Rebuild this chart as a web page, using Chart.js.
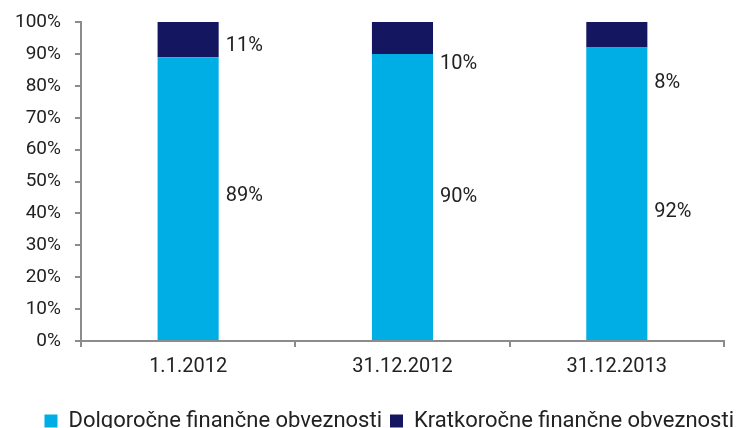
<!DOCTYPE html>
<html>
<head>
<meta charset="utf-8">
<script src="https://cdn.jsdelivr.net/npm/chart.js@4/dist/chart.umd.min.js"></script>
<style>
    html, body { margin: 0; padding: 0; background: #fff; }
    #wrap { width: 742px; height: 428px; position: relative; }
</style>
</head>
<body>
<div id="wrap"><canvas id="debtChart"></canvas></div>
<script>
const categories = ["1.1.2012", "31.12.2012", "31.12.2013"];
const longTerm = [89, 90, 92];
const shortTerm = [11, 10, 8];
// where the value labels sit, in percent on the y scale
const longTermLabelAt = [45.6, 45, 40.5];
const shortTermLabelAt = [92.5, 87, 81];

const fontFamily = "Roboto, 'DejaVu Sans', sans-serif";
const axisColor = "#8c8c8c";
const textColor = "#222";

const sideLabels = {
    id: "sideLabels",
    afterDatasetsDraw(chart) {
        const ctx = chart.ctx;
        const yScale = chart.scales.y;
        const labelAt = [longTermLabelAt, shortTermLabelAt];
        ctx.save();
        ctx.font = "20px " + fontFamily;
        ctx.fillStyle = textColor;
        ctx.textAlign = "left";
        ctx.textBaseline = "middle";
        chart.data.datasets.forEach((ds, d) => {
            chart.getDatasetMeta(d).data.forEach((bar, i) => {
                const x = bar.x + bar.width / 2 + 7;
                const y = yScale.getPixelForValue(labelAt[d][i]);
                ctx.fillText(ds.data[i] + "%", x, y);
            });
        });
        ctx.restore();
    }
};

window.onload = function () {
    const ctx = document.getElementById("debtChart").getContext("2d");

    new Chart(ctx, {
        type: "bar",
        data: {
            labels: categories,
            datasets: [
                {
                    label: "Dolgoročne finančne obveznosti",
                    data: longTerm,
                    backgroundColor: "#00aee6"
                },
                {
                    label: "Kratkoročne finančne obveznosti",
                    data: shortTerm,
                    backgroundColor: "#141760"
                }
            ]
        },
        options: {
            responsive: true,
            maintainAspectRatio: false,
            animation: false,
            layout: {
                padding: { top: 9, right: 0, left: 1, bottom: -14 }
            },
            datasets: {
                bar: {
                    categoryPercentage: 1,
                    barPercentage: 0.285
                }
            },
            scales: {
                x: {
                    stacked: true,
                    grid: {
                        display: true,
                        offset: true,
                        drawOnChartArea: false,
                        drawTicks: true,
                        tickLength: 6,
                        color: axisColor,
                        lineWidth: 2
                    },
                    border: { color: axisColor, width: 2 },
                    ticks: {
                        color: textColor,
                        font: { family: fontFamily, size: 20 },
                        padding: 8
                    },
                    // leave room between the category labels and the legend
                    afterFit: scale => { scale.height += 15; }
                },
                y: {
                    stacked: true,
                    min: 0,
                    max: 100,
                    grid: {
                        display: true,
                        drawOnChartArea: false,
                        drawTicks: true,
                        tickLength: 6,
                        color: axisColor,
                        lineWidth: 2
                    },
                    border: { color: axisColor, width: 2 },
                    ticks: {
                        stepSize: 10,
                        color: textColor,
                        font: { family: fontFamily, size: 19, lineHeight: 0.85 },
                        padding: 14,
                        callback: value => value + "%"
                    }
                },
                // empty right axis, only keeps the plot off the right edge
                yRight: {
                    position: "right",
                    grid: { display: false, drawTicks: false },
                    border: { display: false },
                    ticks: { display: false },
                    afterFit: scale => { scale.width = 18; }
                }
            },
            plugins: {
                legend: {
                    position: "bottom",
                    align: "end",
                    labels: {
                        boxWidth: 13,
                        boxHeight: 13,
                        padding: 8,
                        color: textColor,
                        font: { family: fontFamily, size: 22 }
                    }
                },
                tooltip: { enabled: false }
            }
        },
        plugins: [sideLabels]
    });
};
</script>
</body>
</html>
